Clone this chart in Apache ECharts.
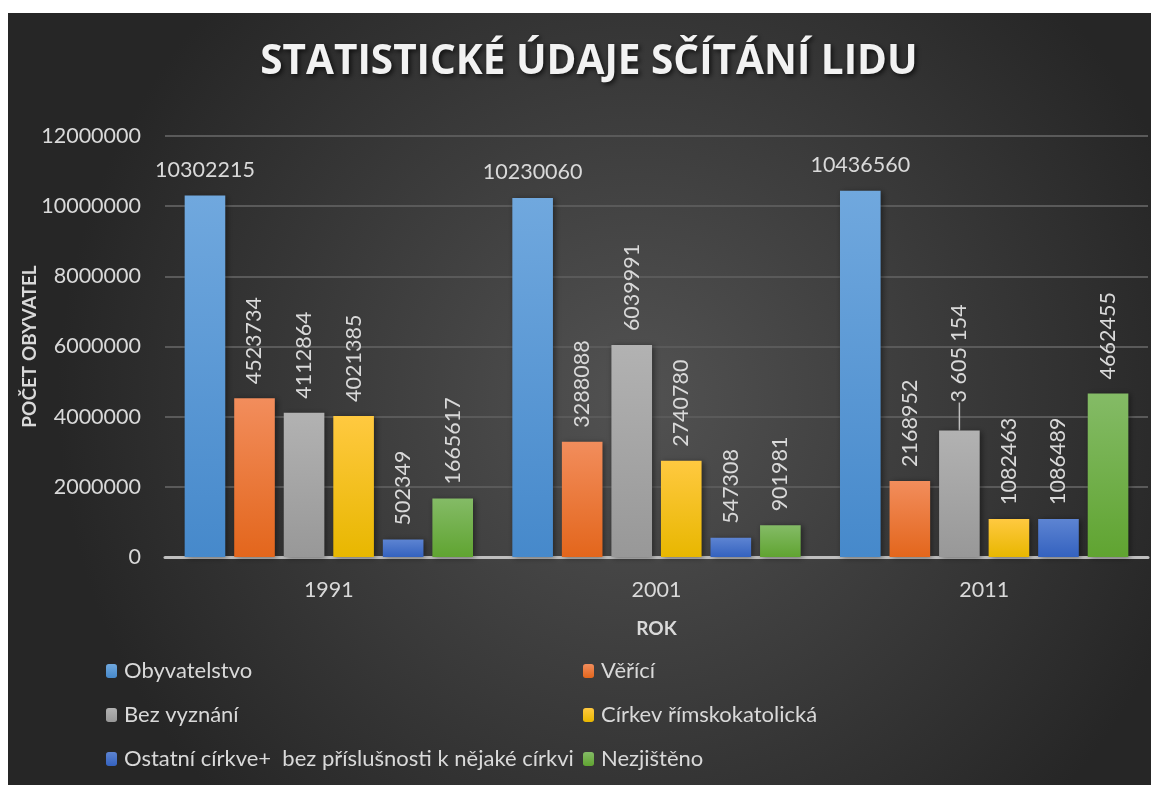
<!DOCTYPE html>
<html>
<head>
<meta charset="utf-8">
<script src="https://cdn.jsdelivr.net/npm/echarts@6/dist/echarts.min.js"></script>
<style>
html,body{margin:0;padding:0;background:#fff;}
#c{width:1151px;height:785px;}
</style>
</head>
<body>
<div id="c"></div>
<script>
var categories = ['1991', '2001', '2011'];
var seriesNames = ['Obyvatelstvo', 'Věřící', 'Bez vyznání', 'Církev římskokatolická', 'Ostatní církve+  bez příslušnosti k nějaké církvi', 'Nezjištěno'];
var obyvatelstvo = [10302215, 10230060, 10436560];
var veri = [4523734, 3288088, 2168952];
var bezVyznani = [4112864, 6039991, 3605154];
var cirkevRK = [4021385, 2740780, 1082463];
var ostatni = [502349, 547308, 1086489];
var nezjisteno = [1665617, 901981, 4662455];
var bezVyznaniLabels = ['4112864', '6039991', '3 605 154'];
var yTicks = {min: 0, max: 12000000, interval: 2000000};

var FONT = 'Lato';
var labelColor = '#d9d9d9';
var FS = 21.5;

function grad(top, bottom) {
  return new echarts.graphic.LinearGradient(0, 0, 0, 1, [
    {offset: 0, color: top}, {offset: 1, color: bottom}
  ]);
}
var colors = [
  grad('#70a8de', '#4689cb'),
  grad('#f28d5c', '#e3661c'),
  grad('#b2b2b2', '#989898'),
  grad('#ffc940', '#e8b700'),
  grad('#5d84d2', '#3462bf'),
  grad('#84bb66', '#60a431')
];
var flatColors = ['#5b9bd5', '#ed7d31', '#a5a5a5', '#ffc000', '#4472c4', '#70ad47'];

var values = [obyvatelstvo, veri, bezVyznani, cirkevRK, ostatni, nezjisteno];

var series = values.map(function (arr, i) {
  var s = {
    name: seriesNames[i],
    type: 'bar',
    data: arr.map(function (v, j) {
      if (i === 2 && j === 2) {
        return {value: v, labelLine: {show: true, lineStyle: {color: '#bfbfbf', width: 1.5}}};
      }
      return v;
    }),
    barGap: '22%',
    barCategoryGap: '12%',
    itemStyle: {
      color: colors[i],
      shadowColor: 'rgba(0,0,0,0.45)',
      shadowBlur: 6,
      shadowOffsetX: 2,
      shadowOffsetY: 1
    },
    label: {
      show: true,
      color: labelColor,
      fontFamily: FONT,
      fontSize: FS
    }
  };
  if (i === 0) {
    s.label.position = 'top';
    s.label.distance = 15;
  } else {
    s.label.position = 'top';
    s.label.rotate = 90;
    s.label.align = 'left';
    s.label.verticalAlign = 'middle';
    s.label.distance = 14;
  }
  if (i === 2) {
    s.label.formatter = function (p) { return bezVyznaniLabels[p.dataIndex]; };
    s.labelLayout = function (p) {
      if (p.dataIndex === 2) return {dx: 14};
      return {};
    };
    s.labelLine = {show: false, lineStyle: {color: '#bfbfbf', width: 1.5}};
  }
  return s;
});

var chart = echarts.init(document.getElementById('c'));
chart.setOption({
  backgroundColor: '#ffffff',
  animation: false,
  color: flatColors,
  graphic: [{
    type: 'rect',
    z: -10,
    silent: true,
    shape: {x: 8, y: 13, width: 1143, height: 772},
    style: {
      fill: new echarts.graphic.RadialGradient(0.55, 0.5, 0.75, [
        {offset: 0, color: '#525252'},
        {offset: 1, color: '#262626'}
      ])
    }
  }],
  title: {
    text: 'STATISTICKÉ ÚDAJE SČÍTÁNÍ LIDU',
    left: 584,
    top: 37,
    textAlign: 'center',
    textStyle: {
      color: '#f2f2f2',
      fontFamily: 'Open Sans',
      fontWeight: 'bold',
      fontSize: 40.5,
      textShadowColor: 'rgba(0,0,0,0.7)',
      textShadowBlur: 5,
      textShadowOffsetX: 2,
      textShadowOffsetY: 2
    }
  },
  legend: [{
    orient: 'vertical',
    left: 101,
    top: 655,
    itemWidth: 11,
    itemHeight: 14,
    itemGap: 22,
    data: [seriesNames[0], seriesNames[2], seriesNames[4]],
    textStyle: {color: labelColor, fontFamily: FONT, fontSize: 22, padding: [0, 0, 0, 2]}
  }, {
    orient: 'vertical',
    left: 578,
    top: 655,
    itemWidth: 11,
    itemHeight: 14,
    itemGap: 22,
    data: [seriesNames[1], seriesNames[3], seriesNames[5]],
    textStyle: {color: labelColor, fontFamily: FONT, fontSize: 22, padding: [0, 0, 0, 2]}
  }],
  grid: {left: 165, right: 3, top: 136, bottom: 228, containLabel: false},
  xAxis: {
    type: 'category',
    data: categories,
    name: 'ROK',
    nameLocation: 'middle',
    nameGap: 62,
    nameTextStyle: {color: labelColor, fontFamily: FONT, fontWeight: 'bold', fontSize: 19},
    axisLine: {show: true, lineStyle: {color: '#bfbfbf', width: 3}},
    axisTick: {show: false},
    axisLabel: {color: labelColor, fontFamily: FONT, fontSize: FS, margin: 22}
  },
  yAxis: {
    type: 'value',
    min: yTicks.min,
    max: yTicks.max,
    interval: yTicks.interval,
    name: 'POČET OBYVATEL',
    nameLocation: 'middle',
    nameGap: 126,
    nameMoveOverlap: false,
    nameRotate: 90,
    nameTextStyle: {color: labelColor, fontFamily: FONT, fontWeight: 'bold', fontSize: 19},
    axisLine: {show: false},
    axisTick: {show: false},
    axisLabel: {color: labelColor, fontFamily: FONT, fontSize: FS, margin: 24, formatter: function (v) { return String(v); }},
    splitLine: {lineStyle: {color: '#5a5a5a', width: 2}}
  },
  series: series
});
</script>
</body>
</html>
